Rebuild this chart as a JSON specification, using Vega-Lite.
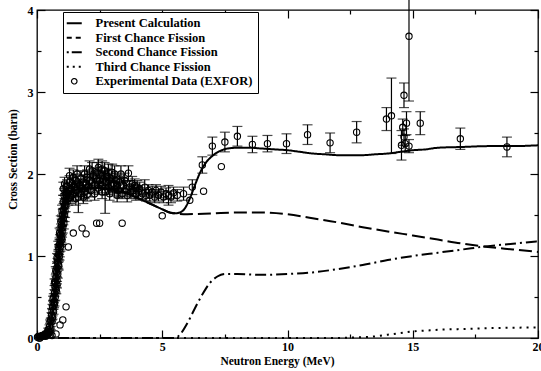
{
  "$schema": "https://vega.github.io/schema/vega-lite/v6.json",
  "width": 501,
  "height": 328,
  "autosize": {"type": "none"},
  "padding": {"left": 37, "top": 10, "right": 3, "bottom": 33},
  "background": "white",
  "config": {
    "view": {"stroke": "black", "strokeWidth": 1.3},
    "font": "Liberation Serif, Times New Roman, DejaVu Serif, serif",
    "axis": {
      "labelFont": "Liberation Serif, Times New Roman, DejaVu Serif, serif", "labelFontSize": 12, "labelFontWeight": "bold", "labelColor": "black",
      "titleFont": "Liberation Serif, Times New Roman, DejaVu Serif, serif", "titleFontSize": 11.5, "titleFontWeight": "bold", "titleColor": "black",
      "tickColor": "black", "tickWidth": 1.2, "grid": false, "domain": false, "labelFlush": false, "labelOverlap": false
    }
  },
  "resolve": {"scale": {"strokeDash": "independent"}},
  "datasets": {
    "curves": [
      {"s": "Present Calculation", "E": 0, "y": 0},
      {"s": "Present Calculation", "E": 0.2, "y": 0.01},
      {"s": "Present Calculation", "E": 0.35, "y": 0.04},
      {"s": "Present Calculation", "E": 0.5, "y": 0.13},
      {"s": "Present Calculation", "E": 0.6, "y": 0.28},
      {"s": "Present Calculation", "E": 0.7, "y": 0.5},
      {"s": "Present Calculation", "E": 0.8, "y": 0.8},
      {"s": "Present Calculation", "E": 0.9, "y": 1.1},
      {"s": "Present Calculation", "E": 1.0, "y": 1.38},
      {"s": "Present Calculation", "E": 1.1, "y": 1.58},
      {"s": "Present Calculation", "E": 1.2, "y": 1.7},
      {"s": "Present Calculation", "E": 1.3, "y": 1.76},
      {"s": "Present Calculation", "E": 1.5, "y": 1.8},
      {"s": "Present Calculation", "E": 1.75, "y": 1.82},
      {"s": "Present Calculation", "E": 2.0, "y": 1.83},
      {"s": "Present Calculation", "E": 2.5, "y": 1.83},
      {"s": "Present Calculation", "E": 3.0, "y": 1.81},
      {"s": "Present Calculation", "E": 3.5, "y": 1.77},
      {"s": "Present Calculation", "E": 4.0, "y": 1.71},
      {"s": "Present Calculation", "E": 4.5, "y": 1.64},
      {"s": "Present Calculation", "E": 5.0, "y": 1.57},
      {"s": "Present Calculation", "E": 5.3, "y": 1.53},
      {"s": "Present Calculation", "E": 5.5, "y": 1.52},
      {"s": "Present Calculation", "E": 5.7, "y": 1.53},
      {"s": "Present Calculation", "E": 5.9, "y": 1.58},
      {"s": "Present Calculation", "E": 6.1, "y": 1.7},
      {"s": "Present Calculation", "E": 6.3, "y": 1.86},
      {"s": "Present Calculation", "E": 6.5, "y": 2.01},
      {"s": "Present Calculation", "E": 6.7, "y": 2.12},
      {"s": "Present Calculation", "E": 7.0, "y": 2.22},
      {"s": "Present Calculation", "E": 7.3, "y": 2.28},
      {"s": "Present Calculation", "E": 7.6, "y": 2.31},
      {"s": "Present Calculation", "E": 8.0, "y": 2.32},
      {"s": "Present Calculation", "E": 8.5, "y": 2.32},
      {"s": "Present Calculation", "E": 9.0, "y": 2.31},
      {"s": "Present Calculation", "E": 9.5, "y": 2.3},
      {"s": "Present Calculation", "E": 10, "y": 2.29},
      {"s": "Present Calculation", "E": 10.5, "y": 2.27},
      {"s": "Present Calculation", "E": 11, "y": 2.25},
      {"s": "Present Calculation", "E": 11.5, "y": 2.24},
      {"s": "Present Calculation", "E": 12, "y": 2.23},
      {"s": "Present Calculation", "E": 12.5, "y": 2.23},
      {"s": "Present Calculation", "E": 13, "y": 2.23},
      {"s": "Present Calculation", "E": 13.5, "y": 2.24},
      {"s": "Present Calculation", "E": 14, "y": 2.25},
      {"s": "Present Calculation", "E": 14.5, "y": 2.27},
      {"s": "Present Calculation", "E": 15, "y": 2.29},
      {"s": "Present Calculation", "E": 15.5, "y": 2.3},
      {"s": "Present Calculation", "E": 16, "y": 2.32},
      {"s": "Present Calculation", "E": 17, "y": 2.33},
      {"s": "Present Calculation", "E": 18, "y": 2.34},
      {"s": "Present Calculation", "E": 19, "y": 2.34},
      {"s": "Present Calculation", "E": 20, "y": 2.35},
      {"s": "First Chance Fission", "E": 0, "y": 0},
      {"s": "First Chance Fission", "E": 0.2, "y": 0.01},
      {"s": "First Chance Fission", "E": 0.35, "y": 0.04},
      {"s": "First Chance Fission", "E": 0.5, "y": 0.13},
      {"s": "First Chance Fission", "E": 0.6, "y": 0.28},
      {"s": "First Chance Fission", "E": 0.7, "y": 0.5},
      {"s": "First Chance Fission", "E": 0.8, "y": 0.8},
      {"s": "First Chance Fission", "E": 0.9, "y": 1.1},
      {"s": "First Chance Fission", "E": 1.0, "y": 1.38},
      {"s": "First Chance Fission", "E": 1.1, "y": 1.58},
      {"s": "First Chance Fission", "E": 1.2, "y": 1.7},
      {"s": "First Chance Fission", "E": 1.3, "y": 1.76},
      {"s": "First Chance Fission", "E": 1.5, "y": 1.8},
      {"s": "First Chance Fission", "E": 1.75, "y": 1.82},
      {"s": "First Chance Fission", "E": 2.0, "y": 1.83},
      {"s": "First Chance Fission", "E": 2.5, "y": 1.83},
      {"s": "First Chance Fission", "E": 3.0, "y": 1.81},
      {"s": "First Chance Fission", "E": 3.5, "y": 1.77},
      {"s": "First Chance Fission", "E": 4.0, "y": 1.71},
      {"s": "First Chance Fission", "E": 4.5, "y": 1.64},
      {"s": "First Chance Fission", "E": 5.0, "y": 1.57},
      {"s": "First Chance Fission", "E": 5.3, "y": 1.53},
      {"s": "First Chance Fission", "E": 5.5, "y": 1.52},
      {"s": "First Chance Fission", "E": 6.0, "y": 1.51},
      {"s": "First Chance Fission", "E": 7.0, "y": 1.52},
      {"s": "First Chance Fission", "E": 8.0, "y": 1.53},
      {"s": "First Chance Fission", "E": 9.0, "y": 1.53},
      {"s": "First Chance Fission", "E": 10, "y": 1.51},
      {"s": "First Chance Fission", "E": 11, "y": 1.46},
      {"s": "First Chance Fission", "E": 12, "y": 1.41},
      {"s": "First Chance Fission", "E": 13, "y": 1.35},
      {"s": "First Chance Fission", "E": 14, "y": 1.3},
      {"s": "First Chance Fission", "E": 15, "y": 1.25},
      {"s": "First Chance Fission", "E": 16, "y": 1.2},
      {"s": "First Chance Fission", "E": 17, "y": 1.15},
      {"s": "First Chance Fission", "E": 18, "y": 1.11},
      {"s": "First Chance Fission", "E": 19, "y": 1.08},
      {"s": "First Chance Fission", "E": 20, "y": 1.05},
      {"s": "Second Chance Fission", "E": 0, "y": 0},
      {"s": "Second Chance Fission", "E": 5.5, "y": 0},
      {"s": "Second Chance Fission", "E": 5.7, "y": 0.04},
      {"s": "Second Chance Fission", "E": 6.0, "y": 0.18},
      {"s": "Second Chance Fission", "E": 6.3, "y": 0.36},
      {"s": "Second Chance Fission", "E": 6.6, "y": 0.53},
      {"s": "Second Chance Fission", "E": 6.9, "y": 0.67},
      {"s": "Second Chance Fission", "E": 7.2, "y": 0.75},
      {"s": "Second Chance Fission", "E": 7.5, "y": 0.78},
      {"s": "Second Chance Fission", "E": 8, "y": 0.78},
      {"s": "Second Chance Fission", "E": 9, "y": 0.77},
      {"s": "Second Chance Fission", "E": 10, "y": 0.78},
      {"s": "Second Chance Fission", "E": 11, "y": 0.8},
      {"s": "Second Chance Fission", "E": 12, "y": 0.84},
      {"s": "Second Chance Fission", "E": 13, "y": 0.89},
      {"s": "Second Chance Fission", "E": 14, "y": 0.95},
      {"s": "Second Chance Fission", "E": 15, "y": 1.0},
      {"s": "Second Chance Fission", "E": 16, "y": 1.04},
      {"s": "Second Chance Fission", "E": 17, "y": 1.08},
      {"s": "Second Chance Fission", "E": 18, "y": 1.12},
      {"s": "Second Chance Fission", "E": 19, "y": 1.15},
      {"s": "Second Chance Fission", "E": 20, "y": 1.18},
      {"s": "Third Chance Fission", "E": 0, "y": 0},
      {"s": "Third Chance Fission", "E": 12, "y": 0},
      {"s": "Third Chance Fission", "E": 12.5, "y": 0.005},
      {"s": "Third Chance Fission", "E": 13, "y": 0.01},
      {"s": "Third Chance Fission", "E": 13.5, "y": 0.02},
      {"s": "Third Chance Fission", "E": 14, "y": 0.04},
      {"s": "Third Chance Fission", "E": 14.5, "y": 0.06},
      {"s": "Third Chance Fission", "E": 15, "y": 0.08},
      {"s": "Third Chance Fission", "E": 15.5, "y": 0.09},
      {"s": "Third Chance Fission", "E": 16, "y": 0.1},
      {"s": "Third Chance Fission", "E": 17, "y": 0.11},
      {"s": "Third Chance Fission", "E": 18, "y": 0.12},
      {"s": "Third Chance Fission", "E": 19, "y": 0.125},
      {"s": "Third Chance Fission", "E": 20, "y": 0.13}
    ],
    "exfor": [
      {"E": 0.02, "y": 0.01, "err": 0}, {"E": 0.05, "y": 0.02, "err": 0}, {"E": 0.08, "y": 0.0, "err": 0},
      {"E": 0.1, "y": 0.02, "err": 0.01}, {"E": 0.12, "y": 0.0, "err": 0}, {"E": 0.15, "y": 0.02, "err": 0.01},
      {"E": 0.2, "y": 0.03, "err": 0.01}, {"E": 0.25, "y": 0.02, "err": 0.01}, {"E": 0.3, "y": 0.04, "err": 0.01},
      {"E": 0.35, "y": 0.05, "err": 0.01}, {"E": 0.35, "y": 0.02, "err": 0.01}, {"E": 0.4, "y": 0.07, "err": 0.01},
      {"E": 0.4, "y": 0.04, "err": 0.01}, {"E": 0.45, "y": 0.05, "err": 0.01},
      {"E": 0.45, "y": 0.1, "err": 0.02}, {"E": 0.5, "y": 0.14, "err": 0.02}, {"E": 0.5, "y": 0.08, "err": 0.01},
      {"E": 0.52, "y": 0.2, "err": 0.02}, {"E": 0.55, "y": 0.22, "err": 0.02}, {"E": 0.55, "y": 0.12, "err": 0.02},
      {"E": 0.58, "y": 0.28, "err": 0.03}, {"E": 0.6, "y": 0.33, "err": 0.03}, {"E": 0.6, "y": 0.2, "err": 0.02},
      {"E": 0.62, "y": 0.38, "err": 0.03}, {"E": 0.62, "y": 0.25, "err": 0.02}, {"E": 0.64, "y": 0.48, "err": 0.03},
      {"E": 0.65, "y": 0.43, "err": 0.03}, {"E": 0.66, "y": 0.32, "err": 0.03}, {"E": 0.67, "y": 0.5, "err": 0.04},
      {"E": 0.68, "y": 0.4, "err": 0.03}, {"E": 0.7, "y": 0.55, "err": 0.04}, {"E": 0.7, "y": 0.42, "err": 0.03},
      {"E": 0.7, "y": 0.68, "err": 0.04}, {"E": 0.72, "y": 0.62, "err": 0.04}, {"E": 0.73, "y": 0.5, "err": 0.04},
      {"E": 0.74, "y": 0.68, "err": 0.04}, {"E": 0.75, "y": 0.6, "err": 0.04}, {"E": 0.75, "y": 0.82, "err": 0.05},
      {"E": 0.76, "y": 0.74, "err": 0.05}, {"E": 0.77, "y": 0.58, "err": 0.04}, {"E": 0.78, "y": 0.8, "err": 0.05},
      {"E": 0.8, "y": 0.86, "err": 0.05}, {"E": 0.8, "y": 0.7, "err": 0.04}, {"E": 0.8, "y": 0.65, "err": 0.04},
      {"E": 0.8, "y": 0.98, "err": 0.05}, {"E": 0.82, "y": 0.92, "err": 0.05}, {"E": 0.83, "y": 0.78, "err": 0.05},
      {"E": 0.84, "y": 0.97, "err": 0.05}, {"E": 0.85, "y": 0.9, "err": 0.05}, {"E": 0.85, "y": 1.12, "err": 0.06},
      {"E": 0.86, "y": 1.02, "err": 0.06}, {"E": 0.87, "y": 0.88, "err": 0.05}, {"E": 0.88, "y": 1.08, "err": 0.06},
      {"E": 0.9, "y": 1.14, "err": 0.06}, {"E": 0.9, "y": 1.0, "err": 0.05}, {"E": 0.9, "y": 1.28, "err": 0.06},
      {"E": 0.91, "y": 1.05, "err": 0.06}, {"E": 0.92, "y": 1.2, "err": 0.06}, {"E": 0.94, "y": 1.26, "err": 0.06},
      {"E": 0.94, "y": 1.12, "err": 0.06}, {"E": 0.95, "y": 1.18, "err": 0.06}, {"E": 0.95, "y": 1.42, "err": 0.07},
      {"E": 0.96, "y": 1.32, "err": 0.07}, {"E": 0.97, "y": 1.22, "err": 0.06}, {"E": 0.98, "y": 1.38, "err": 0.07},
      {"E": 1.0, "y": 1.43, "err": 0.07}, {"E": 1.0, "y": 1.3, "err": 0.07}, {"E": 1.0, "y": 1.2, "err": 0.06},
      {"E": 1.0, "y": 1.55, "err": 0.07}, {"E": 1.03, "y": 1.5, "err": 0.07}, {"E": 1.03, "y": 1.35, "err": 0.07},
      {"E": 1.05, "y": 1.45, "err": 0.07}, {"E": 1.05, "y": 1.66, "err": 0.08}, {"E": 1.06, "y": 1.56, "err": 0.08},
      {"E": 1.07, "y": 1.4, "err": 0.07}, {"E": 1.08, "y": 1.74, "err": 0.08}, {"E": 1.1, "y": 1.62, "err": 0.08},
      {"E": 1.1, "y": 1.5, "err": 0.08}, {"E": 1.12, "y": 1.55, "err": 0.08}, {"E": 1.13, "y": 1.68, "err": 0.08},
      {"E": 1.15, "y": 1.62, "err": 0.08}, {"E": 1.17, "y": 1.72, "err": 0.08}, {"E": 1.2, "y": 1.76, "err": 0.08},
      {"E": 1.25, "y": 1.79, "err": 0.08}, {"E": 1.05, "y": 1.82, "err": 0.08}, {"E": 1.1, "y": 1.88, "err": 0.08},
      {"E": 1.15, "y": 1.75, "err": 0.08},
      {"E": 1.2, "y": 1.85, "err": 0.08}, {"E": 1.25, "y": 1.7, "err": 0.08}, {"E": 1.3, "y": 1.9, "err": 0.08},
      {"E": 1.3, "y": 1.98, "err": 0.09}, {"E": 1.32, "y": 1.72, "err": 0.08}, {"E": 1.38, "y": 1.82, "err": 0.08},
      {"E": 1.4, "y": 1.74, "err": 0.08}, {"E": 1.42, "y": 1.88, "err": 0.08}, {"E": 1.45, "y": 1.96, "err": 0.09},
      {"E": 1.46, "y": 1.76, "err": 0.08}, {"E": 1.5, "y": 1.84, "err": 0.08}, {"E": 1.55, "y": 1.92, "err": 0.08},
      {"E": 1.55, "y": 1.7, "err": 0.08}, {"E": 1.6, "y": 1.8, "err": 0.08}, {"E": 1.6, "y": 2.0, "err": 0.1},
      {"E": 1.65, "y": 1.72, "err": 0.19}, {"E": 1.7, "y": 1.86, "err": 0.08},
      {"E": 1.75, "y": 1.95, "err": 0.09}, {"E": 1.75, "y": 1.76, "err": 0.08}, {"E": 1.8, "y": 1.82, "err": 0.08},
      {"E": 1.85, "y": 1.9, "err": 0.09}, {"E": 1.85, "y": 1.72, "err": 0.08}, {"E": 1.9, "y": 1.78, "err": 0.08},
      {"E": 1.9, "y": 2.0, "err": 0.1},
      {"E": 1.95, "y": 1.88, "err": 0.09}, {"E": 2.0, "y": 1.96, "err": 0.09}, {"E": 2.0, "y": 1.75, "err": 0.08},
      {"E": 2.05, "y": 1.84, "err": 0.08}, {"E": 2.1, "y": 1.92, "err": 0.09}, {"E": 2.1, "y": 2.06, "err": 0.1},
      {"E": 2.15, "y": 1.8, "err": 0.08},
      {"E": 2.2, "y": 1.9, "err": 0.09}, {"E": 2.2, "y": 2.04, "err": 0.1}, {"E": 2.25, "y": 1.98, "err": 0.09},
      {"E": 2.3, "y": 1.86, "err": 0.09}, {"E": 2.3, "y": 1.76, "err": 0.08}, {"E": 2.35, "y": 1.94, "err": 0.09},
      {"E": 2.4, "y": 2.02, "err": 0.12}, {"E": 2.45, "y": 1.83, "err": 0.08}, {"E": 2.45, "y": 2.08, "err": 0.1},
      {"E": 2.5, "y": 1.92, "err": 0.09},
      {"E": 2.55, "y": 1.98, "err": 0.1}, {"E": 2.6, "y": 1.86, "err": 0.09}, {"E": 2.6, "y": 2.06, "err": 0.1},
      {"E": 2.6, "y": 1.78, "err": 0.08}, {"E": 2.65, "y": 1.94, "err": 0.09}, {"E": 2.7, "y": 2.04, "err": 0.1},
      {"E": 2.72, "y": 1.78, "err": 0.26},
      {"E": 2.75, "y": 1.9, "err": 0.09}, {"E": 2.8, "y": 1.97, "err": 0.1}, {"E": 2.85, "y": 1.84, "err": 0.09},
      {"E": 2.85, "y": 2.02, "err": 0.1}, {"E": 2.9, "y": 1.92, "err": 0.09}, {"E": 2.9, "y": 1.76, "err": 0.08},
      {"E": 2.95, "y": 1.86, "err": 0.09}, {"E": 3.0, "y": 2.02, "err": 0.1}, {"E": 3.05, "y": 1.88, "err": 0.09},
      {"E": 3.1, "y": 1.82, "err": 0.09}, {"E": 3.1, "y": 2.0, "err": 0.1}, {"E": 3.15, "y": 1.92, "err": 0.09},
      {"E": 3.2, "y": 1.86, "err": 0.09},
      {"E": 3.2, "y": 1.74, "err": 0.08}, {"E": 3.25, "y": 1.8, "err": 0.09}, {"E": 3.3, "y": 1.9, "err": 0.09},
      {"E": 3.35, "y": 2.0, "err": 0.1}, {"E": 3.4, "y": 1.76, "err": 0.06}, {"E": 3.45, "y": 1.86, "err": 0.09},
      {"E": 3.5, "y": 1.92, "err": 0.09}, {"E": 3.55, "y": 1.82, "err": 0.09}, {"E": 3.6, "y": 1.74, "err": 0.08},
      {"E": 3.65, "y": 2.01, "err": 0.09}, {"E": 3.7, "y": 1.84, "err": 0.08}, {"E": 3.75, "y": 1.78, "err": 0.08},
      {"E": 3.8, "y": 1.88, "err": 0.09}, {"E": 3.85, "y": 1.8, "err": 0.08}, {"E": 3.9, "y": 1.86, "err": 0.08},
      {"E": 3.95, "y": 1.76, "err": 0.08}, {"E": 4.0, "y": 1.84, "err": 0.08}, {"E": 4.05, "y": 1.78, "err": 0.08},
      {"E": 4.1, "y": 1.82, "err": 0.08}, {"E": 4.2, "y": 1.76, "err": 0.07}, {"E": 4.3, "y": 1.84, "err": 0.09},
      {"E": 4.35, "y": 1.74, "err": 0.07}, {"E": 4.45, "y": 1.8, "err": 0.07}, {"E": 4.5, "y": 1.74, "err": 0.07},
      {"E": 4.6, "y": 1.78, "err": 0.07}, {"E": 4.7, "y": 1.72, "err": 0.07}, {"E": 4.75, "y": 1.8, "err": 0.07},
      {"E": 4.85, "y": 1.74, "err": 0.07}, {"E": 4.95, "y": 1.78, "err": 0.07}, {"E": 5.05, "y": 1.72, "err": 0.07},
      {"E": 5.15, "y": 1.76, "err": 0.07}, {"E": 5.25, "y": 1.74, "err": 0.12}, {"E": 5.35, "y": 1.72, "err": 0.07},
      {"E": 5.45, "y": 1.77, "err": 0.07}, {"E": 5.6, "y": 1.74, "err": 0.07}, {"E": 5.85, "y": 1.76, "err": 0.08},
      {"E": 0.52, "y": 0.04, "err": 0}, {"E": 0.76, "y": 0.05, "err": 0}, {"E": 0.6, "y": 0.03, "err": 0},
      {"E": 0.92, "y": 0.16, "err": 0}, {"E": 1.03, "y": 0.22, "err": 0}, {"E": 1.16, "y": 0.38, "err": 0},
      {"E": 1.25, "y": 1.11, "err": 0}, {"E": 1.45, "y": 1.28, "err": 0}, {"E": 1.8, "y": 1.34, "err": 0},
      {"E": 1.96, "y": 1.27, "err": 0}, {"E": 2.38, "y": 1.4, "err": 0}, {"E": 2.5, "y": 1.4, "err": 0},
      {"E": 3.4, "y": 1.4, "err": 0}, {"E": 5.0, "y": 1.49, "err": 0}, {"E": 6.1, "y": 1.68, "err": 0},
      {"E": 6.65, "y": 1.79, "err": 0}, {"E": 7.36, "y": 2.09, "err": 0},
      {"E": 6.2, "y": 1.84, "err": 0.09}, {"E": 6.6, "y": 2.11, "err": 0.1}, {"E": 7.0, "y": 2.34, "err": 0.11},
      {"E": 7.5, "y": 2.39, "err": 0.12}, {"E": 8.0, "y": 2.46, "err": 0.12}, {"E": 8.6, "y": 2.36, "err": 0.1},
      {"E": 9.2, "y": 2.37, "err": 0.1}, {"E": 9.96, "y": 2.37, "err": 0.12}, {"E": 10.8, "y": 2.48, "err": 0.12},
      {"E": 11.7, "y": 2.38, "err": 0.12}, {"E": 12.76, "y": 2.51, "err": 0.13}, {"E": 13.95, "y": 2.67, "err": 0.14},
      {"E": 14.15, "y": 2.71, "err": 0.46}, {"E": 14.65, "y": 2.96, "err": 0.15}, {"E": 14.85, "y": 3.68, "err": 0.79},
      {"E": 14.6, "y": 2.57, "err": 0.1}, {"E": 14.75, "y": 2.62, "err": 0.14}, {"E": 14.55, "y": 2.35, "err": 0.18},
      {"E": 14.7, "y": 2.37, "err": 0.1}, {"E": 14.85, "y": 2.34, "err": 0.08}, {"E": 14.65, "y": 2.45, "err": 0.1},
      {"E": 15.3, "y": 2.62, "err": 0.14}, {"E": 16.9, "y": 2.43, "err": 0.13}, {"E": 18.76, "y": 2.33, "err": 0.12}
    ]
  },
  "layer": [
    {
      "data": {"name": "curves"},
      "mark": {"type": "line", "strokeWidth": 2, "color": "black", "interpolate": "monotone"},
      "encoding": {
        "x": {"field": "E", "type": "quantitative", "scale": {"domain": [0, 20], "nice": false},
          "axis": {"orient": "bottom", "values": [0, 2.5, 5, 7.5, 10, 12.5, 15, 17.5, 20],
            "labelExpr": "datum.value % 5 === 0 ? '' + datum.value : ''",
            "tickSize": {"condition": {"test": "datum.value % 5 === 0", "value": -8}, "value": -4},
            "labelPadding": 11,
            "title": "Neutron Energy (MeV)", "titleX": 240, "titleY": 26, "titleAlign": "center", "titleBaseline": "alphabetic"}},
        "y": {"field": "y", "type": "quantitative", "scale": {"domain": [0, 4], "nice": false},
          "axis": {"orient": "left", "values": [0, 0.5, 1, 1.5, 2, 2.5, 3, 3.5, 4],
            "labelExpr": "datum.value % 1 === 0 ? '' + datum.value : ''",
            "tickSize": {"condition": {"test": "datum.value % 1 === 0", "value": -8}, "value": -4},
            "labelPadding": 12,
            "title": "Cross Section (barn)", "titleX": -24, "titleY": 149, "titleAngle": -90, "titleAlign": "center", "titleBaseline": "middle"}},
        "strokeDash": {"field": "s", "type": "nominal",
          "scale": {"domain": ["Present Calculation", "First Chance Fission", "Second Chance Fission", "Third Chance Fission"],
            "range": [[1, 0], [13, 5], [11, 4, 2, 4], [2, 5]]},
          "legend": null
        }
      }
    },
    {
      "data": {"name": "curves"},
      "transform": [{"filter": "datum.E < 0"}],
      "mark": {"type": "line", "strokeWidth": 2, "color": "black"},
      "encoding": {
        "x": {"field": "E", "type": "quantitative", "axis": null},
        "y": {"field": "y", "type": "quantitative", "axis": null},
        "strokeDash": {"field": "s", "type": "nominal",
          "scale": {"domain": ["Present Calculation", "First Chance Fission", "Second Chance Fission", "Third Chance Fission", "Experimental Data (EXFOR)"],
            "range": [[1, 0], [5, 4], [2, 3, 10, 0], [2, 4], [1, 0]]},
          "legend": {"orient": "none", "legendX": 26, "legendY": 2, "title": null,
            "symbolType": "stroke", "symbolSize": 225, "symbolStrokeWidth": 2, "symbolStrokeColor": "black", "symbolFillColor": "transparent",
            "labelFont": "Liberation Serif, Times New Roman, DejaVu Serif, serif", "labelFontSize": 12.5, "labelFontWeight": "bold", "labelColor": "black", "labelLimit": 300,
            "labelOffset": 15, "padding": 5, "rowPadding": 1.5, "strokeColor": "black", "fillColor": "white",
            "encode": {"symbols": {"update": {
              "shape": {"signal": "datum.value === 'Experimental Data (EXFOR)' ? 'circle' : 'stroke'"},
              "size": {"signal": "datum.value === 'Experimental Data (EXFOR)' ? 30 : 225"},
              "strokeWidth": {"signal": "datum.value === 'Experimental Data (EXFOR)' ? 1.2 : 2"}
            }}}}
        }
      }
    },
    {
      "data": {"name": "exfor"},
      "transform": [{"filter": "datum.err > 0"}],
      "mark": {"type": "errorbar", "ticks": {"size": 10, "thickness": 1.2, "color": "black"}, "rule": {"strokeWidth": 1.2, "color": "black"}},
      "encoding": {
        "x": {"field": "E", "type": "quantitative", "axis": null},
        "y": {"field": "y", "type": "quantitative", "axis": null},
        "yError": {"field": "err"}
      }
    },
    {
      "data": {"name": "exfor"},
      "mark": {"type": "point", "shape": "circle", "filled": false, "size": 40, "strokeWidth": 1.1, "color": "black", "opacity": 1},
      "encoding": {
        "x": {"field": "E", "type": "quantitative", "axis": null},
        "y": {"field": "y", "type": "quantitative", "axis": null}
      }
    },
    {
      "data": {"name": "curves"},
      "mark": {"type": "point", "opacity": 0},
      "encoding": {
        "x": {"field": "E", "type": "quantitative",
          "axis": {"orient": "top", "values": [0, 2.5, 5, 7.5, 10, 12.5, 15, 17.5, 20], "labels": false, "title": null,
            "tickSize": {"condition": {"test": "datum.value % 5 === 0", "value": -8}, "value": -4}}},
        "y": {"field": "y", "type": "quantitative",
          "axis": {"orient": "right", "values": [0, 0.5, 1, 1.5, 2, 2.5, 3, 3.5, 4], "labels": false, "title": null,
            "tickSize": {"condition": {"test": "datum.value % 1 === 0", "value": -8}, "value": -4}}}
      }
    }
  ]
}
